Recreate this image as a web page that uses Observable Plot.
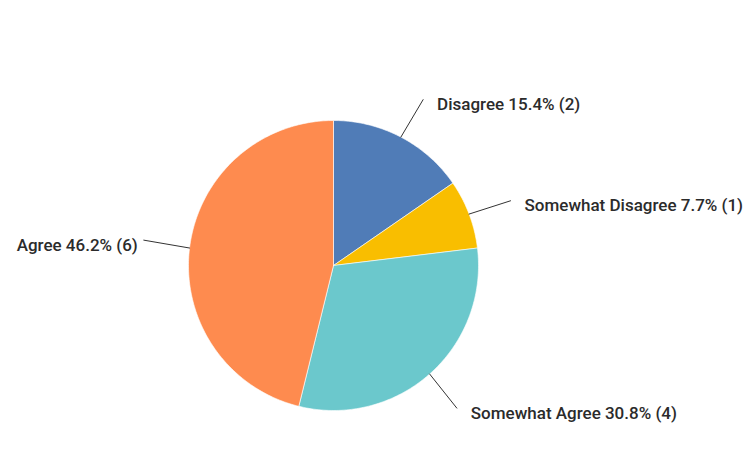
<!DOCTYPE html>
<html>
<head>
<meta charset="utf-8">
<script src="https://cdn.jsdelivr.net/npm/d3@7"></script>
<script src="https://cdn.jsdelivr.net/npm/@observablehq/plot@0.6"></script>
<style>
  html, body { margin: 0; padding: 0; background: #fff; }
  #chart svg { display: block; }
</style>
</head>
<body>
<div id="chart"></div>
<script>
const categories = ["Disagree", "Somewhat Disagree", "Somewhat Agree", "Agree"];
const counts = [2, 1, 4, 6];
const percents = [15.4, 7.7, 30.8, 46.2];
const colors = ["#507cb7", "#f9be00", "#6bc8cc", "#fe8b4f"];

const W = 754, H = 463;
const cx = 333, cy = 265, R = 145;

const pie = d3.pie().sort(null).value(d => d.count);
const rows = categories.map((c, i) => ({category: c, count: counts[i], pct: percents[i]}));
const arcs = pie(rows);

// polygon points (unit radius; angle 0 at top, clockwise)
const pts = [];
arcs.forEach(a => {
  const cat = a.data.category;
  pts.push({category: cat, x: 0, y: 0});
  const n = Math.max(2, Math.ceil((a.endAngle - a.startAngle) / (Math.PI / 180)));
  for (let k = 0; k <= n; k++) {
    const t = a.startAngle + (a.endAngle - a.startAngle) * k / n;
    pts.push({category: cat, x: Math.sin(t), y: Math.cos(t)});
  }
  pts.push({category: cat, x: 0, y: 0});
});

const leaders = [];
const labels = [];
arcs.forEach(a => {
  const m = (a.startAngle + a.endAngle) / 2;
  const cat = a.data.category;
  const right = Math.sin(m) >= 0;
  const r2 = right ? 1.3 : 1.32;
  leaders.push({category: cat, x: Math.sin(m), y: Math.cos(m)});
  leaders.push({category: cat, x: r2 * Math.sin(m + 0.012), y: r2 * Math.cos(m + 0.012)});
  labels.push({
    x: r2 * Math.sin(m + 0.012), y: r2 * Math.cos(m + 0.012),
    text: `${cat} ${a.data.pct}% (${a.data.count})`,
    right
  });
});

const font = "Roboto, sans-serif";
const plot = Plot.plot({
  width: W, height: H,
  margin: 0,
  x: {domain: [-cx / R, (W - cx) / R], axis: null},
  y: {domain: [-(H - cy) / R, cy / R], axis: null},
  color: {domain: categories, range: colors},
  style: {background: "#fff"},
  marks: [
    Plot.line(pts, {x: "x", y: "y", z: "category", fill: "category", stroke: "#ffffff", strokeWidth: 0.6, curve: "linear"}),
    Plot.line(leaders, {x: "x", y: "y", z: "category", stroke: "#333", strokeWidth: 1}),
    Plot.text(labels.filter(d => d.right), {x: "x", y: "y", text: "text", textAnchor: "start", dx: 14, dy: 5, fill: "#2b2b2b", fontSize: 17, fontWeight: 500, fontFamily: font}),
    Plot.text(labels.filter(d => !d.right), {x: "x", y: "y", text: "text", textAnchor: "end", dx: -6, dy: 5, fill: "#2b2b2b", fontSize: 17, fontWeight: 500, fontFamily: font})
  ]
});
document.getElementById("chart").appendChild(plot);
</script>
</body>
</html>
